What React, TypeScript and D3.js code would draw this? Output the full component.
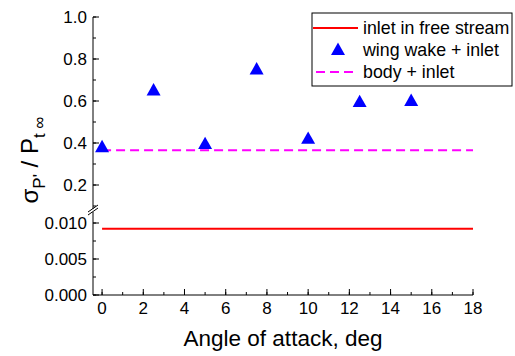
import React from "react";
import * as d3 from "d3";

const angles = [0, 2.5, 5, 7.5, 10, 12.5, 15];
const wingWake = [0.38, 0.65, 0.395, 0.75, 0.42, 0.595, 0.6];
const inletFree = 0.0092;
const bodyInlet = 0.365;
const xTicks = [0, 2, 4, 6, 8, 10, 12, 14, 16, 18];
const topTicks = [0.2, 0.4, 0.6, 0.8, 1.0];
const bottomTicks = [0, 0.005, 0.01];
const legendLabels = ["inlet in free stream", "wing wake + inlet", "body + inlet"];

const W = 515, H = 356;
const font = "Arial, 'Liberation Sans', sans-serif";

export default function App() {
  const x = d3.scaleLinear().domain([-0.44, 18]).range([93, 473]);
  const yTop = d3.scaleLinear().domain([0.1, 1.0]).range([206, 17]);
  const yBot = d3.scaleLinear().domain([0, 0.0115]).range([295, 212.2]);
  const left = 93, bottom = 295;
  const tri = (cx: number, cy: number, s = 14) => {
    const h = s * 0.88;
    return `M${cx},${cy - h * 0.6}L${cx + s / 2},${cy + h * 0.4}L${cx - s / 2},${cy + h * 0.4}Z`;
  };
  const topMinor = d3.range(0.1, 1.0001, 0.1).map((v) => +v.toFixed(2));
  const botMinor = d3.range(0, 0.0101, 0.0025);
  const xMinor = d3.range(0, 18.01, 1);
  return (
    <svg width={W} height={H} style={{ position: "absolute", left: 0, top: 0, background: "#fff" }} fontFamily={font}>
      <rect width={W} height={H} fill="#fff" />
      {/* axes */}
      <line x1={left} x2={left} y1={yTop(1.0)} y2={209} stroke="#000" strokeWidth={1} />
      <line x1={left} x2={left} y1={212} y2={bottom} stroke="#000" strokeWidth={1} />
      <line x1={left - 5} x2={left + 5} y1={212} y2={205} stroke="#000" strokeWidth={1} />
      <line x1={left - 5} x2={left + 5} y1={215} y2={208} stroke="#000" strokeWidth={1} />
      <line x1={left} x2={x(18)} y1={bottom} y2={bottom} stroke="#000" strokeWidth={1} />
      {/* y top ticks */}
      {topMinor.map((v) => (
        <line key={"tm" + v} x1={left} x2={left + 3} y1={yTop(v)} y2={yTop(v)} stroke="#000" />
      ))}
      {topTicks.map((v) => (
        <g key={"tt" + v}>
          <line x1={left} x2={left + 6} y1={yTop(v)} y2={yTop(v)} stroke="#000" />
          <text x={left - 6} y={yTop(v)} dy="0.36em" textAnchor="end" fontSize={17}>
            {v.toFixed(1)}
          </text>
        </g>
      ))}
      {botMinor.map((v) => (
        <line key={"bm" + v} x1={left} x2={left + 3} y1={yBot(v)} y2={yBot(v)} stroke="#000" />
      ))}
      {bottomTicks.map((v) => (
        <g key={"bt" + v}>
          <line x1={left} x2={left + 6} y1={yBot(v)} y2={yBot(v)} stroke="#000" />
          <text x={left - 6} y={yBot(v)} dy="0.36em" textAnchor="end" fontSize={17}>
            {v.toFixed(3)}
          </text>
        </g>
      ))}
      {xMinor.map((v) => (
        <line key={"xm" + v} x1={x(v)} x2={x(v)} y1={bottom} y2={bottom - 3} stroke="#000" />
      ))}
      {xTicks.map((v) => (
        <g key={"xt" + v}>
          <line x1={x(v)} x2={x(v)} y1={bottom} y2={bottom - 6} stroke="#000" />
          <text x={x(v)} y={bottom + 19} textAnchor="middle" fontSize={17}>
            {v}
          </text>
        </g>
      ))}
      {/* titles */}
      <text x={283} y={346} textAnchor="middle" fontSize={22.5}>
        Angle of attack, deg
      </text>
      <text transform={`translate(38,160) rotate(-90)`} textAnchor="middle" fontSize={24}>
        σ<tspan fontSize={17} dy={7}>P'</tspan>
        <tspan dy={-7}> / P</tspan>
        <tspan fontSize={17} dy={7}>t ∞</tspan>
      </text>
      {/* data */}
      <line x1={x(0)} x2={x(18)} y1={yBot(inletFree)} y2={yBot(inletFree)} stroke="#ff0000" strokeWidth={2} />
      <line x1={x(0)} x2={x(18)} y1={yTop(bodyInlet)} y2={yTop(bodyInlet)} stroke="#ff00ff" strokeWidth={2} strokeDasharray="9,5" />
      {angles.map((a, i) => (
        <path key={"p" + i} d={tri(x(a), yTop(wingWake[i]))} fill="#0000ff" />
      ))}
      {/* legend */}
      <rect x={312} y={13} width={200} height={73} fill="#fff" stroke="#000" strokeWidth={1} />
      <line x1={313} x2={358} y1={28} y2={28} stroke="#ff0000" strokeWidth={2} />
      <path d={tri(338, 50)} fill="#0000ff" />
      <line x1={316} x2={358} y1={72} y2={72} stroke="#ff00ff" strokeWidth={2} strokeDasharray="9,5" />
      {legendLabels.map((l, i) => (
        <text key={l} x={363} y={28 + 22 * i} dy="0.36em" fontSize={17.8}>
          {l}
        </text>
      ))}
    </svg>
  );
}
